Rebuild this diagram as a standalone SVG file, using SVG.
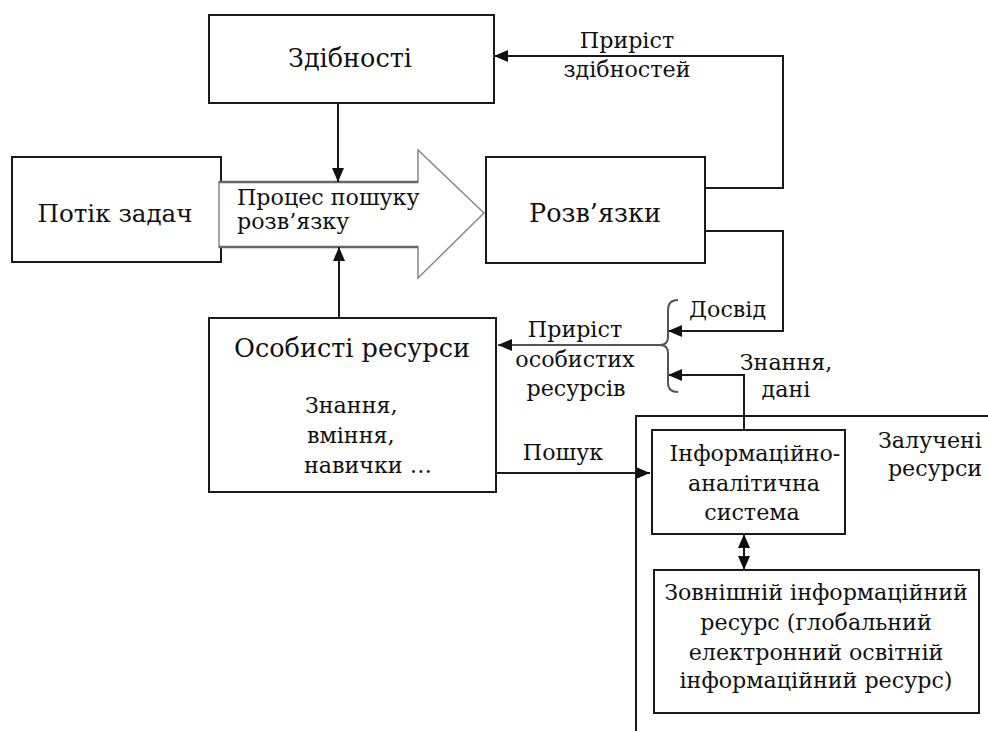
<svg xmlns="http://www.w3.org/2000/svg" width="988" height="731" viewBox="0 0 988 731">
<style>
.box{fill:#fff;stroke:#1a1a1a;stroke-width:2}
.ln{fill:none;stroke:#1a1a1a;stroke-width:2}
.gl{fill:none;stroke:#555;stroke-width:2}
text{fill:#111;font-family:"DejaVu Serif","Liberation Serif",serif}
.big{font-size:25.5px}
.sm{font-size:22.2px}
.c{text-anchor:middle}
</style>
<defs>
<marker id="ah" markerUnits="userSpaceOnUse" markerWidth="14" markerHeight="12" refX="14" refY="6" orient="auto-start-reverse">
<path d="M0,0 L14,6 L0,12 z" fill="#111"/>
</marker>
</defs>
<rect width="988" height="731" fill="#fff"/>
<g id="n-zdibnosti"><rect class="box" x="209" y="15" width="285" height="88"/><text class="big c" x="350" y="67">Здібності</text></g>
<g id="n-potik"><rect class="box" x="12" y="157" width="209" height="105"/><text class="big c" x="115" y="222" style="font-size:24.6px">Потік задач</text></g>
<g id="n-proces"><polygon points="219,182 418,182 418,150 484,213 418,278 418,247 219,247" fill="#fff" stroke="#888" stroke-width="1.5"/><path d="M219,182 H418 M219,247 H418" stroke="#666" stroke-width="2.5" fill="none"/><text class="sm" x="237" y="205">Процес пошуку</text><text class="sm" x="237" y="229">розв’язку</text></g>
<g id="n-rozvyazky"><rect class="box" x="486" y="157" width="219" height="106"/><text class="big c" x="595" y="222">Розв’язки</text></g>
<g id="n-osobysti"><rect class="box" x="209" y="318" width="287" height="174"/><text class="big c" x="352" y="357">Особисті ресурси</text><text class="sm" x="305" y="413">Знання,</text><text class="sm" x="307" y="443">вміння,</text><text class="sm" x="304" y="473">навички …</text></g>
<g id="n-zalucheni"><path class="ln" d="M636,731 V416 H988"/><text class="sm c" x="930" y="448">Залучені</text><text class="sm c" x="935" y="476">ресурси</text></g>
<g id="n-ias"><rect class="box" x="652" y="430" width="193" height="104"/><text class="sm c" x="755" y="461">Інформаційно-</text><text class="sm c" x="754" y="491">аналітична</text><text class="sm c" x="752" y="520">система</text></g>
<g id="n-zovnishniy"><rect class="box" x="654" y="570" width="325" height="143"/><text class="sm c" x="816" y="600">Зовнішній інформаційний</text><text class="sm c" x="816" y="630">ресурс (глобальний</text><text class="sm c" x="816" y="660">електронний освітній</text><text class="sm c" x="816" y="688">інформаційний ресурс)</text></g>
<g id="connectors">
<path class="ln" d="M338,103 V182" marker-end="url(#ah)"/>
<path class="ln" d="M339,318 V247" marker-end="url(#ah)"/>
<path class="ln" d="M705,188 H783 V56 H494" marker-end="url(#ah)"/>
<path class="ln" d="M705,231 H783 V331 H668" marker-end="url(#ah)"/>
<path class="ln" d="M744,430 V375 H668" marker-end="url(#ah)"/>
<path class="gl" d="M678,300 Q668,300 668,310 V337 Q668,345 660,345 Q668,345 668,353 V383 Q668,392 678,392" stroke-width="1.5"/>
<path class="gl" d="M660,345 H498" marker-end="url(#ah)"/>
<path class="ln" d="M496,473 H650" marker-end="url(#ah)"/>
<path class="ln" d="M744,534 V570" marker-start="url(#ah)" marker-end="url(#ah)"/>
<text class="sm c" x="627" y="48">Приріст</text><text class="sm c" x="627" y="77">здібностей</text>
<text class="sm c" x="575" y="337">Приріст</text><text class="sm c" x="575" y="367">особистих</text><text class="sm c" x="576" y="396">ресурсів</text>
<text class="sm c" x="563" y="460">Пошук</text>
<text class="sm" x="689" y="317">Досвід</text>
<text class="sm c" x="786" y="370">Знання,</text><text class="sm c" x="786" y="397">дані</text>
</g>
</svg>
